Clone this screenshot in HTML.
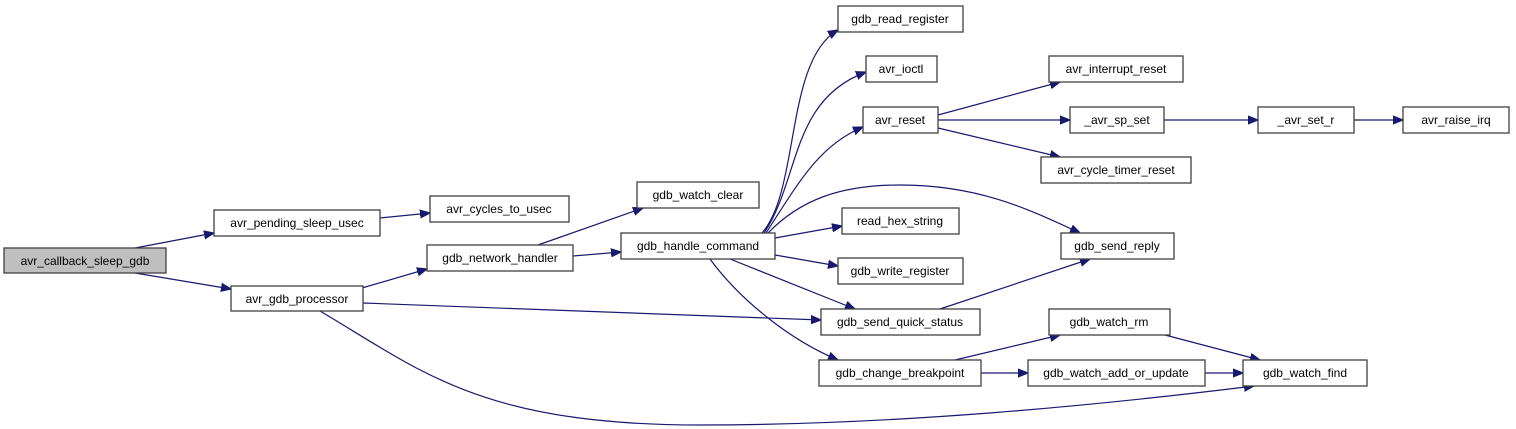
<!DOCTYPE html>
<html><head><meta charset="utf-8"><style>
html,body{margin:0;padding:0;background:#fff;}
svg{display:block;}
text{font-family:"Liberation Sans",sans-serif;font-size:12px;fill:#000;}
rect{fill:#fff;stroke:#404040;stroke-width:1.3;}
path{fill:none;stroke:#191970;stroke-width:1.2;}
</style></head><body>
<svg width="1516" height="429" viewBox="0 0 1516 429" xmlns="http://www.w3.org/2000/svg">
<defs><marker id="a" viewBox="0 0 10 10" refX="10" refY="5" markerWidth="10" markerHeight="10" markerUnits="userSpaceOnUse" orient="auto"><path d="M0,1 L10,5 L0,9 Z" style="fill:#191970;stroke:#191970"/></marker></defs>
<g marker-end="url(#a)">
<path d="M135,248 L214,233"/>
<path d="M135,273 L231,289"/>
<path d="M380,218 L430,213"/>
<path d="M362,288 L427,269"/>
<path d="M538,245 L643,208"/>
<path d="M573,256 L621,252"/>
<path d="M363,303 L821,320"/>
<path d="M320,311 C420,370 480,425 700,425 C900,425 1100,405 1254,386"/>
<path d="M762,233 C800,190 785,60 838,30"/>
<path d="M764,233 C800,180 790,100 866,72"/>
<path d="M766,233 C800,180 820,145 863,127"/>
<path d="M768,233 C800,200 840,185 900,185 C980,185 1030,210 1080,233"/>
<path d="M775,238 L842,226"/>
<path d="M775,255 L838,266"/>
<path d="M730,259 L855,309"/>
<path d="M710,259 C740,300 790,340 838,360"/>
<path d="M940,309 L1090,259"/>
<path d="M938,115 L1060,82"/>
<path d="M938,120 L1070,120"/>
<path d="M938,128 L1060,157"/>
<path d="M1164,120 L1258,120"/>
<path d="M1354,120 L1403,120"/>
<path d="M955,360 L1060,335"/>
<path d="M981,373 L1028,373"/>
<path d="M1205,373 L1243,373"/>
<path d="M1165,335 L1260,360"/>
</g>
<rect x="4" y="248" width="162" height="25" style="fill:#bfbfbf"/><text x="85" y="265" text-anchor="middle">avr_callback_sleep_gdb</text>
<rect x="214" y="210" width="166" height="26"/><text x="297" y="227" text-anchor="middle">avr_pending_sleep_usec</text>
<rect x="430" y="196" width="139" height="26"/><text x="499" y="213" text-anchor="middle">avr_cycles_to_usec</text>
<rect x="231" y="286" width="132" height="25"/><text x="297" y="303" text-anchor="middle">avr_gdb_processor</text>
<rect x="427" y="245" width="146" height="26"/><text x="500" y="262" text-anchor="middle">gdb_network_handler</text>
<rect x="637" y="182" width="122" height="26"/><text x="698" y="199" text-anchor="middle">gdb_watch_clear</text>
<rect x="621" y="233" width="154" height="26"/><text x="698" y="250" text-anchor="middle">gdb_handle_command</text>
<rect x="838" y="6" width="125" height="26"/><text x="900" y="23" text-anchor="middle">gdb_read_register</text>
<rect x="866" y="56" width="71" height="26"/><text x="901" y="73" text-anchor="middle">avr_ioctl</text>
<rect x="863" y="107" width="75" height="26"/><text x="900" y="124" text-anchor="middle">avr_reset</text>
<rect x="1049" y="56" width="134" height="26"/><text x="1116" y="73" text-anchor="middle">avr_interrupt_reset</text>
<rect x="1070" y="107" width="94" height="26"/><text x="1117" y="124" text-anchor="middle">_avr_sp_set</text>
<rect x="1041" y="157" width="150" height="26"/><text x="1116" y="174" text-anchor="middle">avr_cycle_timer_reset</text>
<rect x="1258" y="107" width="96" height="26"/><text x="1306" y="124" text-anchor="middle">_avr_set_r</text>
<rect x="1403" y="107" width="106" height="26"/><text x="1456" y="124" text-anchor="middle">avr_raise_irq</text>
<rect x="842" y="208" width="117" height="26"/><text x="900" y="225" text-anchor="middle">read_hex_string</text>
<rect x="1061" y="233" width="113" height="26"/><text x="1117" y="250" text-anchor="middle">gdb_send_reply</text>
<rect x="838" y="258" width="125" height="26"/><text x="900" y="275" text-anchor="middle">gdb_write_register</text>
<rect x="821" y="309" width="159" height="26"/><text x="900" y="326" text-anchor="middle">gdb_send_quick_status</text>
<rect x="1049" y="309" width="121" height="26"/><text x="1109" y="326" text-anchor="middle">gdb_watch_rm</text>
<rect x="819" y="360" width="162" height="26"/><text x="900" y="377" text-anchor="middle">gdb_change_breakpoint</text>
<rect x="1028" y="360" width="177" height="26"/><text x="1116" y="377" text-anchor="middle">gdb_watch_add_or_update</text>
<rect x="1243" y="360" width="124" height="26"/><text x="1305" y="377" text-anchor="middle">gdb_watch_find</text>
</svg>
</body></html>
